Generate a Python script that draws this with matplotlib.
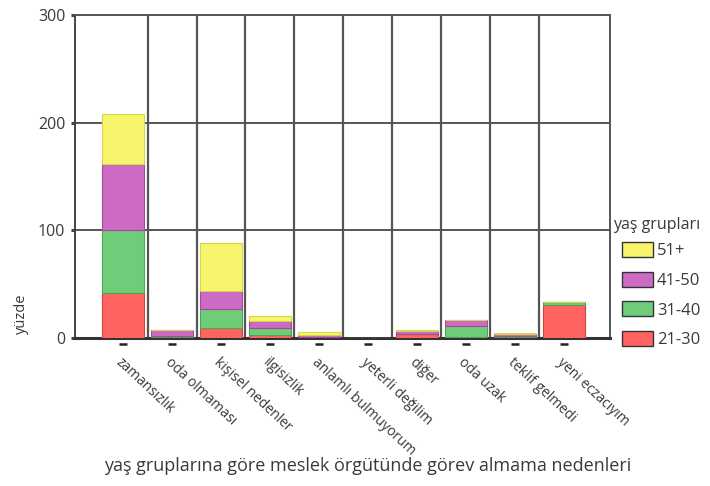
import numpy as np
import matplotlib.pyplot as plt
from matplotlib.path import Path

# kategoriler ve yaş gruplarına göre değerler (yüzde)
kategoriler = ['zamansızlık', 'oda olmaması', 'kişisel nedenler', 'ilgisizlik',
               'anlamlı bulmuyorum', 'yeterli değilim', 'diğer', 'oda uzak',
               'teklif gelmedi', 'yeni eczacıyım']
yas_21_30 = [42, 0.5, 9, 3, 0.5, 0, 3.5, 0.5, 1, 30.5]
yas_31_40 = [58, 1.5, 18, 6, 0.5, 0, 0.5, 10.5, 0.5, 3]
yas_41_50 = [62, 5, 17, 7, 1.5, 0, 2.5, 5.5, 2.5, 0]
yas_51 = [46, 0.5, 44, 4, 3.5, 0, 0.5, 0.3, 0.5, 0]
seri_adlari = ['21-30', '31-40', '41-50', '51+']
renkler = ['#ff6461', '#6fcd7a', '#cc6ac4', '#f6f56c']
kenarlar = ['#d9403c', '#4aa656', '#a34a9c', '#d6d44a']

plt.rcParams['font.family'] = ['Open Sans', 'DejaVu Sans']
yazi = '#3a3a3a'

fig = plt.figure(figsize=(7.10, 4.86), dpi=100)
ax = fig.add_axes([75 / 710, 1 - 338 / 486, 535 / 710, 323 / 486])

x = np.arange(len(kategoriler))
seriler = [yas_21_30, yas_31_40, yas_41_50, yas_51]
alt = np.zeros(len(kategoriler))
for veri, ad, renk, kenar in zip(seriler, seri_adlari, renkler, kenarlar):
    veri = np.array(veri, dtype=float)
    ax.bar(x, veri, 0.85, bottom=alt, color=renk, edgecolor=kenar,
           linewidth=0.8, label=ad, zorder=3)
    alt += veri

ax.set_xlim(-0.98, 9.94)
ax.set_ylim(0, 300)

# ızgara çizgileri
ax.set_xticks(x)
ax.set_xticks(x[:-1] + 0.5, minor=True)
ax.set_yticks([0, 100, 200, 300])
ax.grid(which='minor', axis='x', color='#555555', linewidth=1.6, zorder=1)
ax.grid(which='major', axis='y', color='#555555', linewidth=1.4, zorder=1)
ax.tick_params(axis='x', which='minor', length=0)
for s in ax.spines.values():
    s.set_color('#555555')
    s.set_linewidth(1.4)
ax.spines['bottom'].set_color('#333333')
ax.spines['bottom'].set_linewidth(2.2)
ax.spines['left'].set_color('#444444')

ax.tick_params(axis='y', length=3, width=2.2, color='#444444',
               labelsize=11.5, labelcolor=yazi, pad=4)
ax.set_xticklabels(kategoriler, rotation=-43, ha='left', va='top',
                   rotation_mode='anchor', fontsize=10, color=yazi)
ax.tick_params(axis='x', pad=9)

# x işaretleri: eksenin altında kısa yatay çizgiler
tire = Path([(-0.6, -1.0), (0.6, -1.0)])
for t in ax.xaxis.get_major_ticks():
    t.tick1line.set_marker(tire)
    t.tick1line.set_markersize(8.6)
    t.tick1line.set_markeredgewidth(1.8)
    t.tick1line.set_markeredgecolor('#222222')

fig.text(21 / 710, 1 - 334 / 486, 'yüzde', rotation=90, ha='center', va='bottom',
         fontsize=10.5, color=yazi)
fig.text(368 / 710, 1 - 466 / 486,
         'yaş gruplarına göre meslek örgütünde görev almama nedenleri',
         ha='center', va='center', fontsize=13, color=yazi)

# lejant
fig.text(613 / 710, 1 - 225 / 486, 'yaş grupları', ha='left', va='center',
         fontsize=11.5, color=yazi)
h, l = ax.get_legend_handles_labels()
leg = ax.legend(h[::-1], l[::-1], frameon=False,
                loc='upper left', bbox_to_anchor=(622 / 710, 1 - 242 / 486),
                bbox_transform=fig.transFigure, fontsize=12,
                handlelength=1.85, handleheight=1.0,
                labelspacing=0.75, handletextpad=0.25, borderaxespad=0,
                borderpad=0)
for t in leg.get_texts():
    t.set_color(yazi)
for p in leg.legend_handles:
    p.set_edgecolor('#333333')
    p.set_linewidth(1.0)

fig.savefig('out.png', dpi=100, facecolor='white')
